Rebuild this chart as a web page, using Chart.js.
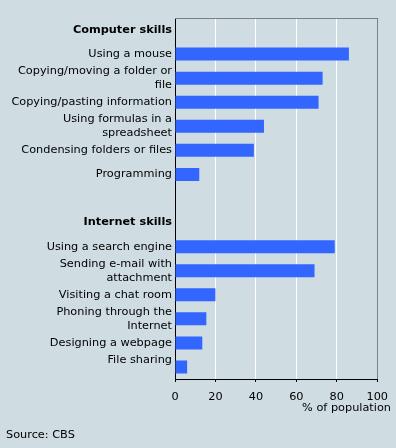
<!DOCTYPE html>
<html>
<head>
<meta charset="utf-8">
<script src="https://cdn.jsdelivr.net/npm/chart.js@4/dist/chart.umd.min.js"></script>
<style>
  html, body { margin: 0; padding: 0; background: #cfdce2; }
  #wrap { width: 396px; height: 448px; position: relative; }
</style>
</head>
<body>
<div id="wrap"><canvas id="c"></canvas></div>
<script>
const sectionTitles = ['Computer skills', 'Internet skills'];
const computerLabels = ['Using a mouse', ['Copying/moving a folder or', 'file'], 'Copying/pasting information',
  ['Using formulas in a', 'spreadsheet'], 'Condensing folders or files', 'Programming'];
const computerValues = [86, 73, 71, 44, 39, 12];
const internetLabels = ['Using a search engine', ['Sending e-mail with', 'attachment'], 'Visiting a chat room',
  ['Phoning through the', 'Internet'], 'Designing a webpage', ['File sharing', '']];
const internetValues = [79, 69, 20, 15.5, 13.5, 6];
const xTicks = [0, 20, 40, 60, 80, 100];
const axisTitle = '% of population';
const sourceText = 'Source: CBS';

const labels = [sectionTitles[0], ...computerLabels, '', sectionTitles[1], ...internetLabels];
const values = [null, ...computerValues, null, null, ...internetValues];

const FONT = 'DejaVu Sans, Verdana, sans-serif';
const FSIZE = 11.3;

const textPlugin = {
  id: 'extras',
  beforeDatasetsDraw(chart) {
    const { ctx, chartArea } = chart;
    ctx.save();
    ctx.strokeStyle = '#808080';
    ctx.lineWidth = 1;
    ctx.beginPath();
    ctx.moveTo(chartArea.left, Math.round(chartArea.top) + 0.5);
    ctx.lineTo(chartArea.right + 1, Math.round(chartArea.top) + 0.5);
    ctx.stroke();
    ctx.restore();
  },
  afterDraw(chart) {
    const { ctx } = chart;
    ctx.save();
    ctx.fillStyle = '#000';
    ctx.font = FSIZE + 'px ' + FONT;
    ctx.textBaseline = 'middle';
    ctx.textAlign = 'right';
    ctx.fillText(axisTitle, 391, 408);
    ctx.textAlign = 'left';
    ctx.fillText(sourceText, 6, 435);
    ctx.restore();
  }
};

new Chart(document.getElementById('c'), {
  type: 'bar',
  data: {
    labels: labels,
    datasets: [{
      data: values,
      backgroundColor: '#3366ff',
      borderWidth: 0,
      categoryPercentage: 1,
      barPercentage: 0.54
    }]
  },
  options: {
    indexAxis: 'y',
    responsive: true,
    maintainAspectRatio: false,
    animation: false,
    layout: { padding: { left: 0, right: 18, top: 18, bottom: 0 } },
    plugins: { legend: { display: false }, tooltip: { enabled: false } },
    scales: {
      x: {
        type: 'linear',
        min: 0, max: 100,
        afterBuildTicks(scale) { scale.ticks = xTicks.map(v => ({ value: v })); },
        afterFit(scale) { scale.height = 69; },
        grid: {
          color: (c) => c.tick && c.tick.value === 100 ? '#808080' : (c.tick && c.tick.value === 0 ? '#000' : '#ffffff'),
          lineWidth: 1,
          tickColor: '#000',
          tickLength: 3,
          drawTicks: true
        },
        border: { display: true, color: '#000', width: 1 },
        ticks: { color: '#000', font: { family: FONT, size: FSIZE }, padding: 8, maxRotation: 0 }
      },
      y: {
        type: 'category',
        afterFit(scale) { scale.width = 175; },
        grid: { display: false, drawTicks: false },
        border: { display: true, color: '#000', width: 1 },
        ticks: {
          autoSkip: false,
          color: '#000',
          padding: 3,
          font: (c) => ({
            family: FONT,
            size: FSIZE,
            lineHeight: 14 / FSIZE,
            weight: sectionTitles.includes(labels[c.index]) ? 'bold' : 'normal'
          })
        }
      }
    }
  },
  plugins: [textPlugin]
});
</script>
</body>
</html>
